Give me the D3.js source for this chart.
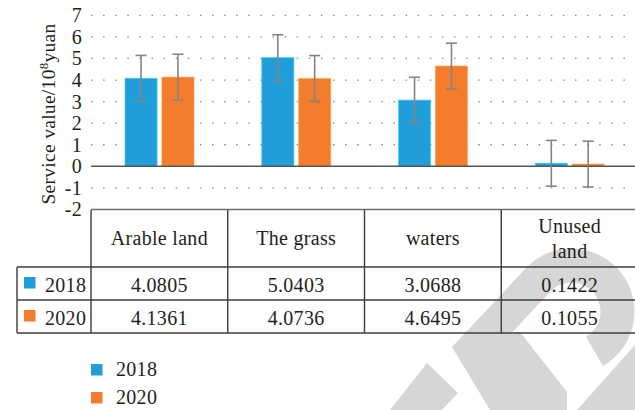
<!DOCTYPE html>
<html>
<head>
<meta charset="utf-8">
<script src="https://cdn.jsdelivr.net/npm/d3@7"></script>
<style>
  body { margin: 0; background: #fff; }
  svg { display: block; }
  svg text { font-family: "Liberation Serif", "DejaVu Serif", serif; letter-spacing: 0.3px; }
</style>
</head>
<body>
<div id="chart"></div>
<script>
// chart data
const categories = ["Arable land", "The grass", "waters", "Unused land"];
const headerLines = [["Arable land"], ["The grass"], ["waters"], ["Unused", "land"]];
const years = ["2018", "2020"];
const values2018 = [4.0805, 5.0403, 3.0688, 0.1422];
const values2020 = [4.1361, 4.0736, 4.6495, 0.1055];
const errors2018 = [1.06, 1.06, 1.06, 1.06];
const errors2020 = [1.06, 1.06, 1.06, 1.06];
const yTicks = [-2, -1, 0, 1, 2, 3, 4, 5, 6, 7];
const colors = ["#219ed9", "#f47c2d"];

const width = 635;
const height = 410;
const marginLeft = 91;
const marginTop = 15.3;
const plotBottom = 209.5;
const plotRight = 638;
const textColor = "#231f20";
const fontSize = 20;

const series = [
  {year: years[0], values: values2018, errors: errors2018, color: colors[0]},
  {year: years[1], values: values2020, errors: errors2020, color: colors[1]}
];

const svg = d3.select("#chart").append("svg")
    .attr("width", width)
    .attr("height", height);

// watermark in the background (bottom right)
const wmColor = "#d6d6d6";
const wm = svg.append("g").attr("fill", wmColor);
wm.append("path")
  .attr("transform", "translate(571.5,311.5)")
  .attr("d", d3.arc()({innerRadius: 29, outerRadius: 63, startAngle: -Math.PI / 4, endAngle: 5 * Math.PI / 6}));
wm.append("path")
  .attr("d", "M452,347 L527,267 L551,291 L476,371 Z");
wm.append("path")
  .attr("d", "M452,347 L520,332 L567,392 L567,410 L490,410 Z");
wm.append("path")
  .attr("d", "M577,410 L635,345 L640,345 L640,410 Z");
wm.append("path")
  .attr("d", "M427,363 L458,393 L442,410 L390,410 Z");

// scales
const x = d3.scaleBand()
    .domain(categories)
    .range([marginLeft, plotRight]);

const xInner = d3.scaleBand()
    .domain(years)
    .range([34, 103])
    .paddingInner(0.13);

const y = d3.scaleLinear()
    .domain([-2, 7])
    .range([plotBottom, marginTop]);

// dotted gridlines
svg.append("g")
  .selectAll("line")
  .data(yTicks.filter(d => d !== 0 && d !== -2))
  .join("line")
    .attr("x1", marginLeft)
    .attr("x2", width)
    .attr("y1", d => y(d))
    .attr("y2", d => y(d))
    .attr("stroke", "#8a8a8a")
    .attr("stroke-width", 1.3)
    .attr("stroke-dasharray", "1.5,10.6");

// y axis labels
const yAxis = svg.append("g")
    .attr("transform", `translate(82,0)`)
    .call(d3.axisLeft(y).tickValues(yTicks).tickSize(0).tickPadding(0).tickFormat(d => String(d)));
yAxis.attr("font-family", null).attr("font-size", null);
yAxis.select(".domain").remove();
yAxis.selectAll("text")
    .attr("font-size", fontSize)
    .attr("fill", textColor);

// y axis title
const title = svg.append("text")
    .attr("transform", `translate(55,${(21 + 207) / 2}) rotate(-90)`)
    .attr("text-anchor", "middle")
    .attr("font-size", 19.5)
    .attr("fill", textColor);
title.append("tspan").text("Service value/10");
title.append("tspan").attr("baseline-shift", "super").attr("font-size", 13).text("8");
title.append("tspan").text("yuan");

// bars
const groups = svg.append("g")
  .selectAll("g")
  .data(series)
  .join("g")
    .attr("fill", d => d.color);

groups.selectAll("rect")
  .data(s => s.values.map((v, i) => ({cat: categories[i], year: s.year, value: v, err: s.errors[i], color: s.color})))
  .join("rect")
    .attr("x", d => x(d.cat) + xInner(d.year))
    .attr("width", xInner.bandwidth())
    .attr("y", d => y(Math.max(0, d.value)))
    .attr("height", d => Math.abs(y(d.value) - y(0)))
    .attr("stroke", d => d3.color(d.color).brighter(0.8))
    .attr("stroke-opacity", 0.6)
    .attr("stroke-width", 1);

// zero line and bottom line
svg.append("line")
    .attr("x1", marginLeft).attr("x2", width)
    .attr("y1", y(0)).attr("y2", y(0))
    .attr("stroke", "#555")
    .attr("stroke-width", 1.5);

svg.append("line")
    .attr("x1", marginLeft).attr("x2", width)
    .attr("y1", y(-2)).attr("y2", y(-2))
    .attr("stroke", "#6e6e6e")
    .attr("stroke-width", 1.4);

// error bars
const errData = series.flatMap(s => s.values.map((v, i) => ({cat: categories[i], year: s.year, value: v, err: s.errors[i]})));
const eb = svg.append("g")
    .attr("stroke", "#848484")
    .attr("stroke-width", 1.6)
  .selectAll("g")
  .data(errData)
  .join("g")
    .attr("transform", d => `translate(${x(d.cat) + xInner(d.year) + xInner.bandwidth() / 2},0)`);

eb.append("line")
    .attr("y1", d => y(d.value + d.err))
    .attr("y2", d => y(d.value - d.err));
eb.append("line")
    .attr("x1", -5.5).attr("x2", 5.5)
    .attr("y1", d => y(d.value + d.err))
    .attr("y2", d => y(d.value + d.err));
eb.append("line")
    .attr("x1", -5.5).attr("x2", 5.5)
    .attr("y1", d => y(d.value - d.err))
    .attr("y2", d => y(d.value - d.err));

// data table
const tableTop = 210;
const headerBottom = 267;
const rowH = 33;
const tableBottom = headerBottom + rowH * series.length;
const tableLeft = 17;

const table = svg.append("g")
    .attr("stroke", "#3c3c3c")
    .attr("stroke-width", 1.4);

// vertical lines
categories.forEach(c => {
  table.append("line")
      .attr("x1", x(c)).attr("x2", x(c))
      .attr("y1", tableTop).attr("y2", tableBottom);
});
table.append("line")
    .attr("x1", tableLeft).attr("x2", tableLeft)
    .attr("y1", headerBottom).attr("y2", tableBottom);

// horizontal lines
[headerBottom, headerBottom + rowH, tableBottom].forEach(yy => {
  table.append("line")
      .attr("x1", tableLeft).attr("x2", width)
      .attr("y1", yy).attr("y2", yy);
});

// header text
const header = svg.append("g")
    .attr("font-size", fontSize)
    .attr("fill", textColor)
    .attr("text-anchor", "middle");
categories.forEach((c, i) => {
  const lines = headerLines[i];
  const mid = (tableTop + headerBottom) / 2;
  lines.forEach((ln, j) => {
    header.append("text")
        .attr("x", x(c) + x.bandwidth() / 2)
        .attr("y", mid + 6.5 + (j - (lines.length - 1) / 2) * 25)
        .text(ln);
  });
});

// table rows
const fmt = d3.format(".4f");
series.forEach((s, r) => {
  const top = headerBottom + r * rowH;
  svg.append("rect")
      .attr("x", 24).attr("y", top + 10)
      .attr("width", 11.5).attr("height", 11.5)
      .attr("fill", s.color);
  svg.append("text")
      .attr("x", 45).attr("y", top + 24.5)
      .attr("font-size", fontSize)
      .attr("fill", textColor)
      .text(s.year);
  s.values.forEach((v, i) => {
    svg.append("text")
        .attr("x", x(categories[i]) + x.bandwidth() / 2)
        .attr("y", top + 24.5)
        .attr("text-anchor", "middle")
        .attr("font-size", fontSize)
        .attr("fill", textColor)
        .text(fmt(v));
  });
});

// legend
const legend = svg.append("g")
  .selectAll("g")
  .data(series)
  .join("g")
    .attr("transform", (d, i) => `translate(91,${364 + i * 28})`);
legend.append("rect")
    .attr("width", 11.5).attr("height", 11.5)
    .attr("fill", d => d.color);
legend.append("text")
    .attr("x", 25).attr("y", 12)
    .attr("font-size", fontSize)
    .attr("fill", textColor)
    .text(d => d.year);
</script>
</body>
</html>
